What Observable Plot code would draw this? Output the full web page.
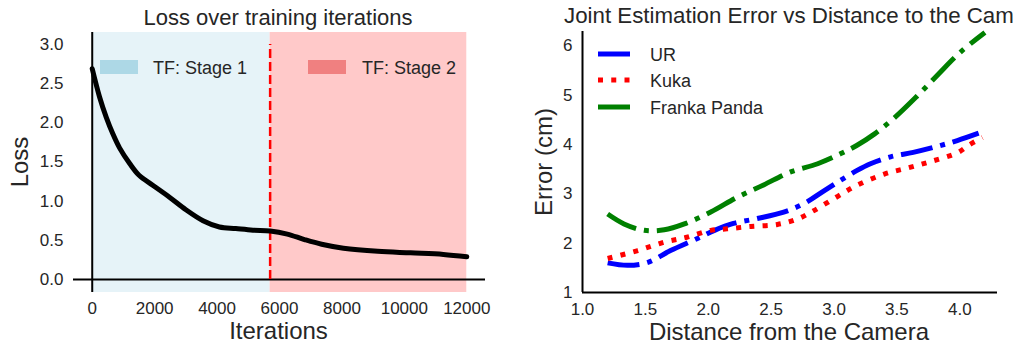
<!DOCTYPE html>
<html><head><meta charset="utf-8">
<script src="https://cdn.jsdelivr.net/npm/d3@7"></script>
<script src="https://cdn.jsdelivr.net/npm/@observablehq/plot@0.6"></script>
<style>
body{margin:0;background:#fff;overflow:hidden;}
#wrap{position:relative;width:1021px;height:347px;overflow:hidden;font-family:"Liberation Sans",Arial,sans-serif;}
#left,#right{position:absolute;top:0;}
#left{left:0}
#right{left:510px}
#overlay{position:absolute;left:0;top:0;}
</style></head><body>
<div id="wrap"><div id="left"></div><div id="right"></div><svg id="overlay" width="1021" height="347"></svg></div>
<script>
// ---- Left chart data: loss over iterations ----
const lossIterations = [0, 235, 450, 660, 875, 1200, 1500, 1950, 2475, 3000, 3550, 4075, 4600, 5150, 5700, 6250, 6800, 7350, 8050, 9150, 10200, 11250, 12000];
const lossValues     = [2.69, 2.33, 2.07, 1.86, 1.68, 1.48, 1.33, 1.20, 1.05, 0.89, 0.75, 0.67, 0.65, 0.63, 0.62, 0.58, 0.51, 0.45, 0.40, 0.36, 0.34, 0.32, 0.29];
const stageNames  = ["TF: Stage 1", "TF: Stage 2"];
const stageStarts = [0, 5700];
const stageEnds   = [5700, 12000];
const lossXTicks = [0, 2000, 4000, 6000, 8000, 10000, 12000];
const lossYTicks = [0, 0.5, 1.0, 1.5, 2.0, 2.5, 3.0];

// ---- Right chart data: joint estimation error vs distance ----
const seriesNames = ["UR", "Kuka", "Franka Panda"];
const urDistance = [1.20, 1.36, 1.52, 1.70, 1.91, 2.05, 2.20, 2.39, 2.60, 2.76, 2.92, 3.05, 3.18, 3.29, 3.45, 3.63, 3.82, 3.98, 4.15];
const urError    = [1.60, 1.55, 1.61, 1.85, 2.09, 2.26, 2.40, 2.50, 2.63, 2.80, 3.06, 3.27, 3.47, 3.61, 3.75, 3.84, 3.96, 4.08, 4.23];
const kukaDistance = [1.20, 1.44, 1.65, 1.83, 2.02, 2.15, 2.34, 2.55, 2.71, 2.84, 3.03, 3.18, 3.40, 3.61, 3.79, 3.98, 4.08, 4.18];
const kukaError    = [1.69, 1.85, 2.02, 2.12, 2.26, 2.29, 2.34, 2.38, 2.49, 2.66, 2.95, 3.17, 3.40, 3.54, 3.67, 3.83, 4.00, 4.14];
const frankaDistance = [1.20, 1.33, 1.49, 1.65, 1.81, 2.02, 2.23, 2.44, 2.65, 2.87, 3.05, 3.18, 3.32, 3.48, 3.66, 3.82, 4.00, 4.20];
const frankaError    = [2.59, 2.39, 2.26, 2.27, 2.39, 2.63, 2.93, 3.18, 3.44, 3.61, 3.81, 3.98, 4.21, 4.54, 4.98, 5.40, 5.86, 6.27];
const distXTicks = [1.0, 1.5, 2.0, 2.5, 3.0, 3.5, 4.0];
const distYTicks = [1, 2, 3, 4, 5, 6];

const FONT = "Liberation Sans, Arial, sans-serif";
const TXT = "#262626";

const lossData = lossIterations.map((x, i) => ({iter: x, loss: lossValues[i]}));
const stages = stageNames.map((n, i) => ({name: n, start: stageStarts[i], end: stageEnds[i]}));
const toRows = (xs, ys, name) => xs.map((x, i) => ({dist: x, err: ys[i], name}));
const urData = toRows(urDistance, urError, seriesNames[0]);
const kukaData = toRows(kukaDistance, kukaError, seriesNames[1]);
const frankaData = toRows(frankaDistance, frankaError, seriesNames[2]);

const styles = {
  "UR": {stroke: "#0000ff", dash: "32,8,5,8"},
  "Kuka": {stroke: "#ff0000", dash: "5,8.25"},
  "Franka Panda": {stroke: "#008000", dash: "32,8,5,8"}
};

const left = Plot.plot({
  width: 510, height: 347,
  marginLeft: 73, marginRight: 25, marginTop: 32, marginBottom: 55,
  style: {fontFamily: FONT, fontSize: "17px", color: TXT, background: "transparent"},
  x: {domain: [-600, 12600]},
  y: {domain: [-0.166, 3.153]},
  marks: [
    Plot.rect([stages[0]], {x1: "start", x2: "end", fill: "#e6f3f8"}),
    Plot.rect([stages[1]], {x1: "start", x2: "end", fill: "#ffc9c9"}),
    Plot.ruleX([0], {stroke: "black", strokeWidth: 2}),
    Plot.ruleY([0], {stroke: "black", strokeWidth: 2}),
    Plot.ruleX([stageStarts[1]], {y1: 0, y2: 3, stroke: "red", strokeWidth: 2.5, strokeDasharray: "9,4"}),
    Plot.line(lossData, {x: "iter", y: "loss", stroke: "black", strokeWidth: 5, curve: "catmull-rom"}),
    Plot.axisX({ticks: lossXTicks, tickSize: 0, tickPadding: 9, tickFormat: d => String(d), label: null}),
    Plot.axisY({ticks: lossYTicks, tickSize: 0, tickPadding: 10, tickFormat: d3.format(".1f"), label: null})
  ]
});
document.getElementById("left").appendChild(left);

const lineMark = (data) => Plot.line(data, {
  x: "dist", y: "err", stroke: styles[data[0].name].stroke, strokeWidth: 5,
  strokeDasharray: styles[data[0].name].dash, strokeLinecap: "butt", curve: "catmull-rom"
});

const right = Plot.plot({
  width: 511, height: 347,
  marginLeft: 72, marginRight: 24, marginTop: 31, marginBottom: 55,
  style: {fontFamily: FONT, fontSize: "17px", color: TXT, background: "transparent"},
  x: {domain: [1.0, 4.3]},
  y: {domain: [1, 6.29]},
  marks: [
    lineMark(urData),
    lineMark(kukaData),
    lineMark(frankaData),
    Plot.ruleX([1.0], {stroke: "black", strokeWidth: 2}),
    Plot.ruleY([1], {stroke: "black", strokeWidth: 2}),
    Plot.axisX({ticks: distXTicks, tickSize: 0, tickPadding: 10, tickFormat: d3.format(".1f"), label: null}),
    Plot.axisY({ticks: distYTicks, tickSize: 0, tickPadding: 10, tickFormat: d3.format("d"), label: null})
  ]
});
document.getElementById("right").appendChild(right);

// ---- Titles, axis labels, legends ----
const ov = d3.select("#overlay").style("font-family", FONT);

const text = (x, y, s, size, anchor = "start") =>
  ov.append("text").attr("x", x).attr("y", y).attr("font-size", size)
    .attr("fill", TXT).attr("text-anchor", anchor).text(s);

text(278, 25, "Loss over training iterations", 22, "middle");
// the reference title is cut off at the figure edge after "Cam"
text(564, 23, "Joint Estimation Error vs Distance to the Cam", 22.3);
text(278.5, 339, "Iterations", 24, "middle");
text(789, 340, "Distance from the Camera", 24, "middle");
ov.append("text").attr("transform", "translate(28,162) rotate(-90)").attr("font-size", 24)
  .attr("fill", TXT).attr("text-anchor", "middle").text("Loss");
ov.append("text").attr("transform", "translate(552,162) rotate(-90)").attr("font-size", 24)
  .attr("fill", TXT).attr("text-anchor", "middle").text("Error (cm)");

// left legend
const patchColors = ["#add8e6", "#f08080"];
const patchX = [100, 308];
const labelX = [153, 362];
stages.forEach((s, i) => {
  ov.append("rect").attr("x", patchX[i]).attr("y", 60).attr("width", 38).attr("height", 14).attr("fill", patchColors[i]);
  text(labelX[i], 74, s.name, 18);
});

// right legend
const legY = [54, 80, 107];
const legBase = [61, 87, 114];
seriesNames.forEach((n, i) => {
  ov.append("line").attr("x1", 598).attr("x2", 630).attr("y1", legY[i]).attr("y2", legY[i])
    .attr("stroke", styles[n].stroke).attr("stroke-width", 5).attr("stroke-dasharray", styles[n].dash);
  text(650, legBase[i], n, 18);
});
</script>
</body></html>
